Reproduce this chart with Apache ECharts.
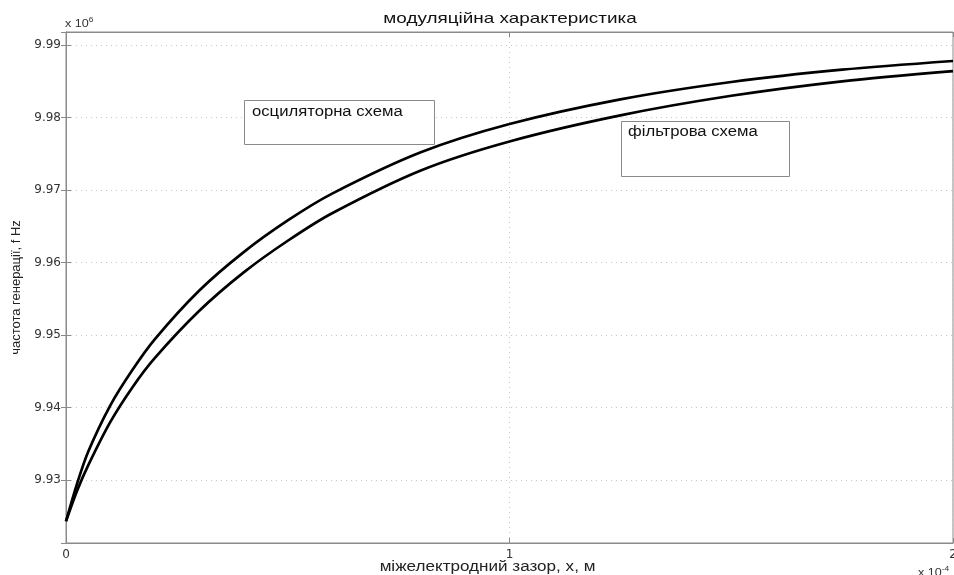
<!DOCTYPE html>
<html>
<head>
<meta charset="utf-8">
<script src="https://cdn.jsdelivr.net/npm/echarts@6/dist/echarts.min.js"></script>
<style>html,body{margin:0;padding:0;background:#fff}#c{width:954px;height:575px}</style>
</head>
<body>
<div id="c"></div>
<script>
// x in units of 1e-4 m, y in units of 1e6 Hz
const titleText = 'модуляційна характеристика';
const xName = 'міжелектродний зазор, х, м';
const yName = 'частота генерації, f Hz';
const seriesNames = ['осциляторна схема', 'фільтрова схема'];

const xValues = [0, 0.025, 0.05, 0.1, 0.15, 0.2, 0.3, 0.4, 0.5, 0.6, 0.8, 1.0, 1.25, 1.5, 1.75, 2.0];
const yOsc = [9.9243, 9.9295, 9.9339, 9.9403, 9.9452, 9.9494, 9.9561, 9.9614, 9.9658, 9.9695, 9.9752, 9.9791, 9.9825, 9.9849, 9.9866, 9.9878];
const yFil = [9.9243, 9.9285, 9.9320, 9.9380, 9.9428, 9.9468, 9.9533, 9.9586, 9.9630, 9.9668, 9.9727, 9.9767, 9.9803, 9.9830, 9.9850, 9.9864];

const xMin = 0, xMax = 2, xInterval = 1;
const yMin = 9.9213, yMax = 9.9918;

const chart = echarts.init(document.getElementById('c'));
const font = 'Liberation Sans, Arial, sans-serif';
const tickFont = 'DejaVu Sans, sans-serif';

function pairs(xs, ys) { return xs.map((x, i) => [x, ys[i]]); }

const axisLineStyle = { color: '#8a8a8a', width: 1 };
const splitLineStyle = { color: '#c8c8c8', type: [1, 4], width: 1 };

chart.setOption({
  animation: false,
  backgroundColor: '#fff',
  grid: { left: 66, top: 32, right: 1, bottom: 32, show: true, borderColor: '#8a8a8a', borderWidth: 1,
    containLabel: false, outerBoundsMode: 'none' },
  xAxis: [{
    type: 'value', min: xMin, max: xMax, interval: xInterval, position: 'bottom',
    axisLine: { show: true, lineStyle: axisLineStyle },
    axisTick: { show: true, inside: true, length: 5, lineStyle: axisLineStyle },
    axisLabel: { fontFamily: tickFont, fontSize: 12, color: '#333', margin: 6 },
    splitLine: { show: true, lineStyle: splitLineStyle }
  }, {
    type: 'value', min: xMin, max: xMax, interval: xInterval, position: 'top',
    axisLine: { show: true, lineStyle: axisLineStyle },
    axisTick: { show: true, inside: true, length: 5, lineStyle: axisLineStyle },
    axisLabel: { show: false }, splitLine: { show: false }
  }],
  yAxis: [{
    type: 'value', min: yMin, max: yMax, splitNumber: 7, position: 'left',
    name: yName, nameLocation: 'middle', nameGap: 42,
    nameTextStyle: { fontFamily: font, fontSize: 13, color: '#222' },
    axisLine: { show: true, lineStyle: axisLineStyle },
    axisTick: { show: true, inside: true, length: 5, lineStyle: axisLineStyle },
    axisLabel: { fontFamily: tickFont, fontSize: 12, color: '#333', margin: 5, showMinLabel: false, showMaxLabel: false,
      formatter: v => v.toFixed(2) },
    splitLine: { show: true, lineStyle: splitLineStyle }
  }, {
    type: 'value', min: yMin, max: yMax, splitNumber: 7, position: 'right',
    axisLine: { show: true, lineStyle: axisLineStyle },
    axisTick: { show: true, inside: true, length: 5, lineStyle: axisLineStyle },
    axisLabel: { show: false }, splitLine: { show: false }
  }],
  series: [{
    name: seriesNames[0], type: 'line', smooth: 0.3, showSymbol: false, symbol: 'none',
    data: pairs(xValues, yOsc), lineStyle: { color: '#000', width: 2.7 }, z: 5
  }, {
    name: seriesNames[1], type: 'line', smooth: 0.3, showSymbol: false, symbol: 'none',
    data: pairs(xValues, yFil), lineStyle: { color: '#000', width: 2.7 }, z: 5
  }],
  graphic: [
    { type: 'text', x: 510, y: 19, scaleX: 1.26, style: { text: titleText, font: '15px ' + font, fill: '#111',
      textAlign: 'center', textVerticalAlign: 'middle' } },
    { type: 'text', x: 487.5, y: 567, scaleX: 1.22, style: { text: xName, font: '14px ' + font, fill: '#222',
      textAlign: 'center', textVerticalAlign: 'middle' } },
    { type: 'text', x: 65, y: 17, scaleX: 1.2, style: { text: 'x 10{s|6}', font: '10.5px ' + font, fill: '#333',
      rich: { s: { fontSize: 7, padding: [0, 0, 7, 0] } } } },
    { type: 'text', x: 918, y: 566, scaleX: 1.2, style: { text: 'x 10{s|-4}', font: '10.5px ' + font, fill: '#333',
      rich: { s: { fontSize: 7, padding: [0, 0, 7, 0] } } } },
    { type: 'rect', shape: { x: 244.5, y: 100.5, width: 190, height: 44 }, style: { fill: '#fff', stroke: '#8a8a8a', lineWidth: 1 }, z: 10 },
    { type: 'text', x: 252, y: 112, scaleX: 1.19, style: { text: seriesNames[0], font: '14px ' + font, fill: '#111',
      textVerticalAlign: 'middle' }, z: 11 },
    { type: 'rect', shape: { x: 621.5, y: 121.5, width: 168, height: 55 }, style: { fill: '#fff', stroke: '#8a8a8a', lineWidth: 1 }, z: 10 },
    { type: 'text', x: 628, y: 132, scaleX: 1.19, style: { text: seriesNames[1], font: '14px ' + font, fill: '#111',
      textVerticalAlign: 'middle' }, z: 11 }
  ]
});
</script>
</body>
</html>
